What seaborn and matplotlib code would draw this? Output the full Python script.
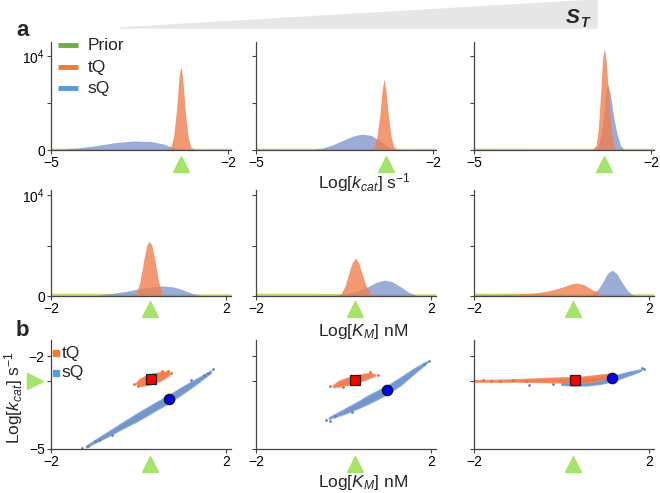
import matplotlib
matplotlib.use("Agg")
import matplotlib.pyplot as plt
from matplotlib.patches import Polygon
import seaborn as sns

# -----------------------------
# Values
# -----------------------------
kcat_true = -2.8   # green triangles, log kcat
km_true = 0.27     # green triangles, log KM

# a, row 1: log kcat posteriors (counts), S_T increases left -> right
kcat_prior_x = [-5.0, -4.0, -3.0, -1.95]
kcat_prior_h = [200, 190, 190, 180]

kcat_tq1_x = [-3.05, -2.97, -2.92, -2.87, -2.83, -2.80, -2.77, -2.73, -2.68, -2.63, -2.55]
kcat_tq1_h = [0, 300, 1500, 4500, 7800, 8900, 7800, 4500, 1500, 300, 0]
kcat_sq1_x = [-5.0, -4.8, -4.5, -4.2, -3.9, -3.6, -3.3, -3.1, -2.95, -2.8, -2.6]
kcat_sq1_h = [0, 80, 250, 500, 800, 960, 900, 650, 300, 80, 0]

kcat_tq2_x = [-3.08, -3.0, -2.95, -2.9, -2.86, -2.83, -2.80, -2.76, -2.71, -2.66, -2.58]
kcat_tq2_h = [0, 300, 1400, 3800, 6500, 7550, 6500, 3800, 1400, 300, 0]
kcat_sq2_x = [-4.1, -3.9, -3.7, -3.5, -3.35, -3.2, -3.05, -2.9, -2.8, -2.65]
kcat_sq2_h = [0, 150, 550, 1100, 1500, 1700, 1550, 1000, 500, 0]

kcat_tq3_x = [-3.0, -2.93, -2.89, -2.85, -2.82, -2.79, -2.76, -2.72, -2.68, -2.63, -2.57]
kcat_tq3_h = [0, 500, 2500, 6500, 9800, 10850, 9500, 6000, 2500, 500, 0]
kcat_sq3_x = [-3.0, -2.9, -2.84, -2.79, -2.76, -2.73, -2.69, -2.64, -2.58, -2.52, -2.45]
kcat_sq3_h = [0, 400, 1800, 4500, 6500, 6900, 6000, 3800, 1800, 500, 0]

# a, row 2: log KM posteriors (counts)
km_prior_x = [-2.0, -1.0, 0.0, 1.0, 2.12]
km_prior_h = [280, 270, 250, 230, 220]

km_tq1_x = [-0.12, -0.04, 0.04, 0.12, 0.19, 0.25, 0.31, 0.38, 0.46, 0.54, 0.62]
km_tq1_h = [0, 300, 1500, 3500, 5000, 5450, 5000, 3500, 1500, 300, 0]
km_sq1_x = [-1.2, -0.9, -0.6, -0.3, 0.0, 0.3, 0.55, 0.8, 1.0, 1.2, 1.45]
km_sq1_h = [0, 100, 250, 450, 700, 900, 990, 900, 650, 300, 0]

km_tq2_x = [-0.15, -0.05, 0.04, 0.12, 0.2, 0.28, 0.35, 0.43, 0.52, 0.62, 0.72]
km_tq2_h = [0, 250, 1000, 2200, 3300, 3760, 3300, 2200, 1000, 250, 0]
km_sq2_x = [-0.4, 0.0, 0.3, 0.55, 0.75, 0.94, 1.1, 1.3, 1.5, 1.7]
km_sq2_h = [0, 150, 450, 900, 1350, 1580, 1450, 950, 350, 0]

km_tq3_x = [-2.0, -1.5, -1.0, -0.6, -0.3, 0.0, 0.2, 0.33, 0.5, 0.7, 0.9, 1.05]
km_tq3_h = [100, 150, 200, 300, 500, 850, 1150, 1290, 1150, 650, 200, 0]
km_sq3_x = [0.55, 0.7, 0.85, 0.95, 1.05, 1.16, 1.27, 1.38, 1.5, 1.62, 1.75]
km_sq3_h = [0, 200, 700, 1400, 2200, 2570, 2200, 1400, 600, 150, 0]

# b: joint samples, dense cloud outline (lower / upper log kcat along log KM)
tq1_x = [-0.05, 0.05, 0.2, 0.35, 0.5, 0.62, 0.7]
tq1_lo = [-2.9, -2.96, -2.93, -2.87, -2.79, -2.7, -2.6]
tq1_hi = [-2.86, -2.72, -2.62, -2.56, -2.52, -2.5, -2.52]
sq1_x = [-1.2, -0.8, -0.4, 0.0, 0.4, 0.69, 1.0, 1.3, 1.66]
sq1_lo = [-4.94, -4.66, -4.36, -4.07, -3.74, -3.51, -3.22, -2.92, -2.53]
sq1_hi = [-4.9, -4.54, -4.18, -3.83, -3.5, -3.27, -3.0, -2.76, -2.47]

tq2_x = [-0.24, -0.1, 0.1, 0.26, 0.45, 0.6, 0.72]
tq2_lo = [-2.99, -2.98, -2.92, -2.86, -2.78, -2.7, -2.63]
tq2_hi = [-2.95, -2.8, -2.7, -2.64, -2.58, -2.55, -2.59]
sq2_x = [-0.33, 0.0, 0.3, 0.6, 0.99, 1.3, 1.6, 1.91]
sq2_lo = [-4.02, -3.87, -3.7, -3.51, -3.23, -2.94, -2.58, -2.21]
sq2_hi = [-3.98, -3.73, -3.5, -3.25, -2.97, -2.7, -2.42, -2.17]

tq3_x = [-2.0, -1.5, -1.0, -0.5, 0.0, 0.3, 0.6, 0.9, 1.13]
tq3_lo = [-2.82, -2.82, -2.82, -2.83, -2.85, -2.86, -2.84, -2.78, -2.62]
tq3_hi = [-2.78, -2.77, -2.75, -2.72, -2.69, -2.68, -2.65, -2.6, -2.57]
sq3_x = [0.0, 0.3, 0.6, 0.9, 1.15, 1.4, 1.6, 1.82]
sq3_lo = [-2.92, -2.95, -2.94, -2.89, -2.81, -2.69, -2.59, -2.47]
sq3_hi = [-2.86, -2.83, -2.79, -2.73, -2.65, -2.56, -2.49, -2.43]

# stray samples outside the dense clouds
tq1_dots_x = [-0.1, 0.75, 0.68, 0.0, 0.55]
tq1_dots_y = [-2.9, -2.55, -2.47, -2.98, -2.47]
sq1_dots_x = [-1.28, -1.15, -1.0, -0.9, -0.6, 1.5, 1.6, 1.7, 1.2]
sq1_dots_y = [-4.96, -4.9, -4.75, -4.72, -4.55, -2.6, -2.55, -2.42, -2.78]
tq2_dots_x = [-0.3, 0.8, 0.0, 0.6]
tq2_dots_y = [-2.98, -2.6, -2.99, -2.52]
sq2_dots_x = [-0.4, -0.3, -0.2, 1.85, 1.95, 0.2]
sq2_dots_y = [-4.05, -4.1, -3.92, -2.25, -2.15, -3.8]
tq3_dots_x = [-2.05, -1.8, -1.6, -1.4, -1.1, -0.8]
tq3_dots_y = [-2.8, -2.78, -2.82, -2.79, -2.77, -2.8]
sq3_dots_x = [-0.75, -0.2, 1.9, 1.85]
sq3_dots_y = [-2.93, -2.9, -2.42, -2.38]

# point estimates (log KM, log kcat)
tq_est_x = [0.28, 0.26, 0.31]
tq_est_y = [-2.74, -2.77, -2.77]
sq_est_x = [0.69, 0.99, 1.15]
sq_est_y = [-3.39, -3.1, -2.7]

# -----------------------------
# Style
# -----------------------------
sns.set_style("ticks")
plt.rcParams["font.family"] = ["Liberation Sans", "DejaVu Sans"]
plt.rcParams["mathtext.fontset"] = "custom"
plt.rcParams["mathtext.rm"] = "Liberation Sans"
plt.rcParams["mathtext.it"] = "Liberation Sans:italic"
plt.rcParams["mathtext.bf"] = "Liberation Sans:bold"

green_leg, orange_leg, blue_leg = "#70ad47", "#ed7d31", "#5b9bd5"
prior_fill, tq_fill, sq_fill = "#b3cc4e", "#ef8050", "#8497cf"
tq_dot, sq_dot = "#ee6a35", "#5b84c4"
tri_green = "#a6e36b"
axis_col = "#444444"

W, H = 660, 493
fig = plt.figure(figsize=(6.6, 4.93), dpi=100)

lefts = [51, 256, 474]
rows = [(150, 108), (296, 106), (449, 109)]  # (bottom px, height px)


def make_ax(col, row):
    b, h = rows[row]
    ax = fig.add_axes([lefts[col] / W, (H - b) / H, 180 / W, h / H])
    sns.despine(ax=ax)
    for s in ["left", "bottom"]:
        ax.spines[s].set_color(axis_col)
        ax.spines[s].set_linewidth(0.9)
    ax.tick_params(colors=axis_col, labelcolor="black", length=3, width=0.8,
                   labelsize=10, pad=1.5)
    return ax


def triangle(ax, val, off, horizontal=False):
    if horizontal:
        ax.plot([off], [val], marker=">", ms=12, color=tri_green, ls="none",
                transform=ax.get_yaxis_transform(), clip_on=False)
    else:
        ax.plot([val], [off], marker="^", ms=12, color=tri_green, ls="none",
                transform=ax.get_xaxis_transform(), clip_on=False)


kcat_panels = [
    (kcat_tq1_x, kcat_tq1_h, kcat_sq1_x, kcat_sq1_h),
    (kcat_tq2_x, kcat_tq2_h, kcat_sq2_x, kcat_sq2_h),
    (kcat_tq3_x, kcat_tq3_h, kcat_sq3_x, kcat_sq3_h),
]
km_panels = [
    (km_tq1_x, km_tq1_h, km_sq1_x, km_sq1_h),
    (km_tq2_x, km_tq2_h, km_sq2_x, km_sq2_h),
    (km_tq3_x, km_tq3_h, km_sq3_x, km_sq3_h),
]

# -----------------------------
# a: marginal histograms
# -----------------------------
for row, panels, prior_x, prior_h, xlim, ylim, xt, true_v in [
    (0, kcat_panels, kcat_prior_x, kcat_prior_h, (-5, -1.95), (0, 11500), [-5, -2], kcat_true),
    (1, km_panels, km_prior_x, km_prior_h, (-2, 2.12), (0, 10500), [-2, 2], km_true),
]:
    for col, (tx, th, sx, shh) in enumerate(panels):
        ax = make_ax(col, row)
        ax.fill_between(prior_x, prior_h, color=prior_fill, alpha=0.8, lw=0)
        ax.fill_between(sx, shh, color=sq_fill, alpha=0.8, lw=0)
        ax.fill_between(tx, th, color=tq_fill, alpha=0.8, lw=0)
        ax.set_xlim(*xlim)
        ax.set_ylim(*ylim)
        ax.set_xticks(xt)
        ax.set_yticks([0, 5000, 10000])
        if col == 0:
            ax.set_yticklabels(["0", "", "$10^4$"])
        else:
            ax.set_yticklabels([])
        triangle(ax, true_v, -0.125)
        if row == 0 and col == 0:
            for yy, c, lab in [(0.972, green_leg, "Prior"), (0.768, orange_leg, "tQ"),
                               (0.574, blue_leg, "sQ")]:
                ax.plot([0.04, 0.15], [yy, yy], color=c, lw=3.5, solid_capstyle="butt",
                        transform=ax.transAxes, clip_on=False)
                ax.text(0.205, yy, lab, transform=ax.transAxes, fontsize=12.5,
                        va="center", ha="left")

# -----------------------------
# b: joint samples
# -----------------------------
clouds = [
    (tq1_x, tq1_lo, tq1_hi, sq1_x, sq1_lo, sq1_hi, tq1_dots_x, tq1_dots_y, sq1_dots_x, sq1_dots_y),
    (tq2_x, tq2_lo, tq2_hi, sq2_x, sq2_lo, sq2_hi, tq2_dots_x, tq2_dots_y, sq2_dots_x, sq2_dots_y),
    (tq3_x, tq3_lo, tq3_hi, sq3_x, sq3_lo, sq3_hi, tq3_dots_x, tq3_dots_y, sq3_dots_x, sq3_dots_y),
]
for col, (tx, tlo, thi, sx, slo, shi, tdx, tdy, sdx, sdy) in enumerate(clouds):
    ax = make_ax(col, 2)
    ax.fill_between(sx, slo, shi, color=sq_dot, alpha=0.85, lw=1.2, edgecolor="#7d9dd2")
    sns.scatterplot(x=sdx, y=sdy, color=sq_dot, s=4, linewidth=0, ax=ax, legend=False)
    ax.fill_between(tx, tlo, thi, color=tq_dot, alpha=0.85, lw=1.2, edgecolor="#f2895c")
    sns.scatterplot(x=tdx, y=tdy, color=tq_dot, s=4, linewidth=0, ax=ax, legend=False)
    sns.scatterplot(x=[tq_est_x[col]], y=[tq_est_y[col]], marker="s", s=50, color="#ff0000",
                    edgecolor="#222222", linewidth=0.9, ax=ax, legend=False, zorder=5)
    sns.scatterplot(x=[sq_est_x[col]], y=[sq_est_y[col]], marker="o", s=55, color="#0000ff",
                    edgecolor="#111111", linewidth=0.9, ax=ax, legend=False, zorder=5)
    ax.set_xlim(-2, 2.12)
    ax.set_ylim(-5, -1.48)
    ax.set_xticks([-2, 2])
    ax.set_yticks([-5, kcat_true, -2])
    if col == 0:
        ax.set_yticklabels(["\u22125", "", "\u22122"])
        triangle(ax, kcat_true, -0.09, horizontal=True)
        for yy, c, lab in [(0.88, orange_leg, "tQ"), (0.70, blue_leg, "sQ")]:
            ax.plot([0.025], [yy], marker="s", ms=4, color=c, ls="none",
                    transform=ax.transAxes, clip_on=False)
            ax.text(0.06, yy, lab, transform=ax.transAxes, fontsize=12.5,
                    va="center", ha="left")
    else:
        ax.set_yticklabels([])
    triangle(ax, km_true, -0.14)

# -----------------------------
# Labels and S_T wedge
# -----------------------------
kcat_lab = r"Log[$k_{cat}$] s$^{-1}$"
km_lab = r"Log[$K_M$] nM"
fig.text(318 / W, 1 - 188 / H, kcat_lab, fontsize=12.5, ha="left", va="baseline")
fig.text(318 / W, 1 - 336 / H, km_lab, fontsize=12.5, ha="left", va="baseline")
fig.text(318 / W, 1 - 487 / H, km_lab, fontsize=12.5, ha="left", va="baseline")
fig.text(2 / W, 1 - 398 / H, kcat_lab, fontsize=12.5, rotation=90, ha="left", va="center")

fig.text(16 / W, 1 - 31 / H, "a", fontsize=16, fontweight="bold", va="center")
fig.text(16 / W, 1 - 331 / H, "b", fontsize=16, fontweight="bold", va="center")

wedge = Polygon([(120 / W, 1 - 28 / H), (597 / W, 1.0), (597 / W, 1 - 28 / H)],
                closed=True, transform=fig.transFigure, color="#e6e6e6", zorder=0)
fig.add_artist(wedge)
fig.text(566 / W, 1 - 23 / H, "S", fontsize=15, fontweight="bold", style="italic",
         va="baseline", ha="left")
fig.text(580 / W, 1 - 27 / H, "T", fontsize=10, fontweight="bold", style="italic",
         va="baseline", ha="left")

plt.savefig("out.png", dpi=100)
plt.close()
